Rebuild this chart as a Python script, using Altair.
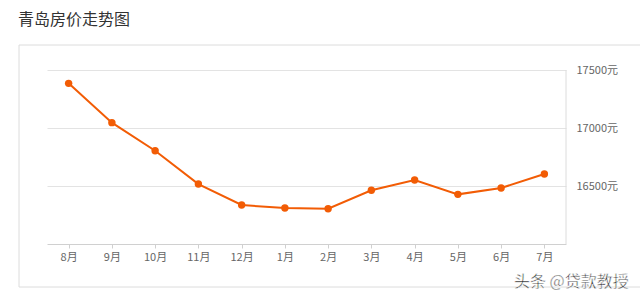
import altair as alt
import pandas as pd

months = ["8月", "9月", "10月", "11月", "12月", "1月", "2月", "3月", "4月", "5月", "6月", "7月"]
prices = [17385, 17046, 16804, 16517, 16336, 16310, 16304, 16463, 16552, 16428, 16483, 16604]
y_ticks = [16500, 17000, 17500]
title_text = "青岛房价走势图"
watermark = "头条 @贷款教授"

df = pd.DataFrame({"month": months, "price": prices})
FONT = "Noto Sans CJK SC"
ORANGE = "#f25c05"

x_enc = alt.X("month:O", sort=months, title=None,
              axis=alt.Axis(labelAngle=0, labelColor="#666", labelFontSize=11, labelFont=FONT,
                            domainColor="#d0d0d0", tickColor="#d0d0d0", tickSize=4,
                            labelPadding=3, grid=False))
y_enc = alt.Y("price:Q", title=None,
              scale=alt.Scale(domain=[16000, 17500], nice=False, zero=False),
              axis=alt.Axis(orient="right", values=y_ticks, labelExpr="datum.value + '元'",
                            labelColor="#666", labelFontSize=11, labelFont=FONT,
                            domain=False, ticks=False, labelPadding=10,
                            gridColor="#e3e3e3", labelBaseline="middle"))

base = alt.Chart(df)
line = base.mark_line(color=ORANGE, strokeWidth=2).encode(x=x_enc, y=y_enc)
pts = base.mark_circle(color=ORANGE, size=55, opacity=1).encode(x=x_enc, y=y_enc)

deco = alt.Chart(pd.DataFrame({"k": [0]}))
card = deco.mark_rect(fill=None, stroke="#dcdcdc", strokeWidth=1).encode(
    x=alt.value(-28), x2=alt.value(600), y=alt.value(-25), y2=alt.value(217))
right_rule = deco.mark_rule(color="#dcdcdc").encode(
    x=alt.value(519), y=alt.value(0), y2=alt.value(174))
title = deco.mark_text(text=title_text, font=FONT, fontSize=16, color="#333",
                       align="left", baseline="middle").encode(
    x=alt.value(-29), y=alt.value(-50))
wm = deco.mark_text(text=watermark, font=FONT, fontSize=16, color="#222",
                    align="left", baseline="middle", stroke="white", strokeWidth=0.5).encode(
    x=alt.value(467), y=alt.value(212))

chart = alt.layer(card, right_rule, line, pts, title, wm).properties(
    width=519, height=174,
    autosize=alt.AutoSizeParams(type="none"),
    padding={"left": 47, "top": 70, "right": 74, "bottom": 56},
    background="white",
).configure_view(stroke=None)

chart.save("out.html", embed_options={"renderer": "svg", "actions": False})
